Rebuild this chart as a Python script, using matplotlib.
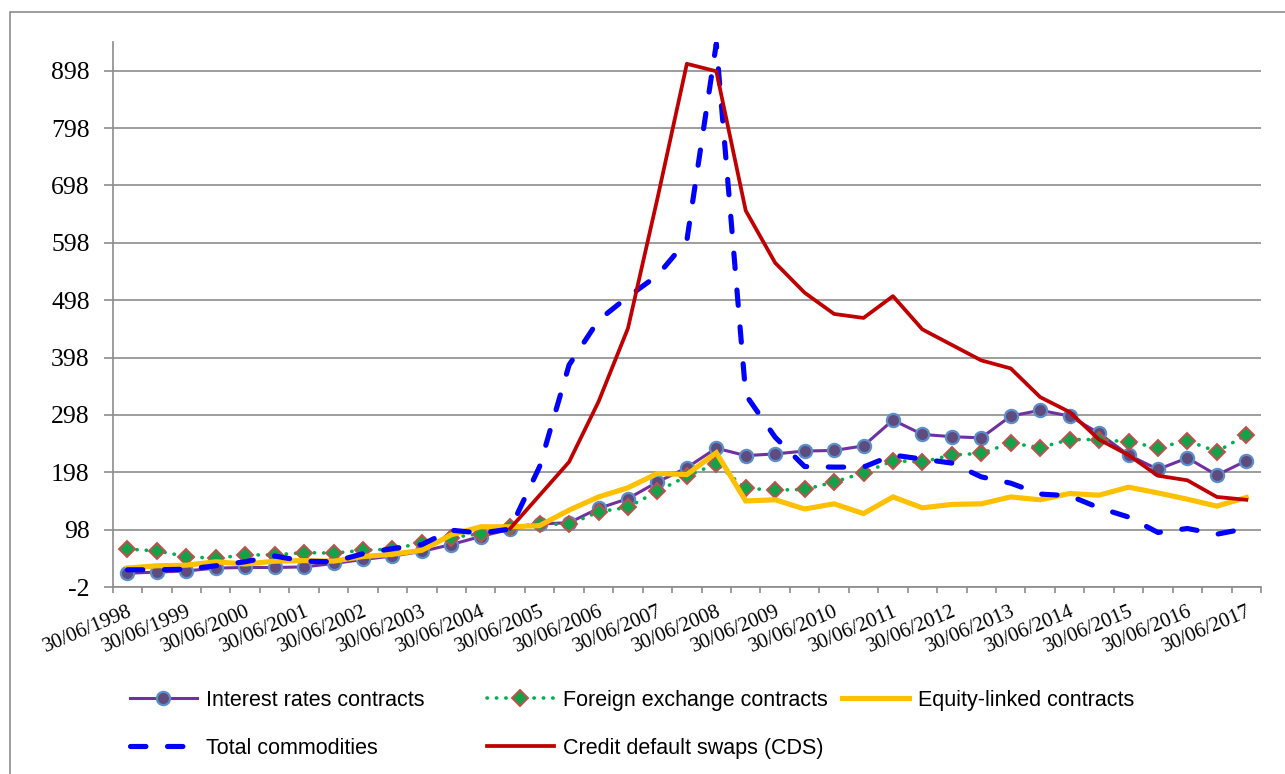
import numpy as np
import matplotlib.pyplot as plt
from matplotlib.patches import Rectangle

# Semi-annual index values (31/12/2004 = 100), from 30/06/1998 to 30/06/2017
tick_labels = ["30/06/1998", "30/06/1999", "30/06/2000", "30/06/2001", "30/06/2002",
               "30/06/2003", "30/06/2004", "30/06/2005", "30/06/2006", "30/06/2007",
               "30/06/2008", "30/06/2009", "30/06/2010", "30/06/2011", "30/06/2012",
               "30/06/2013", "30/06/2014", "30/06/2015", "30/06/2016", "30/06/2017"]

interest_rates = [22, 24, 26, 31, 32, 32, 33, 39, 46, 52, 60, 72, 86, 99, 108, 110, 135, 152, 181, 206,
                  240, 227, 230, 235, 236, 244, 289, 264, 260, 258, 296, 306, 296, 266, 228, 203, 223, 193, 218]
foreign_exchange = [64, 61, 51, 48, 54, 54, 58, 57, 62, 64, 75, 84, 91, 103, 108, 107, 129, 137, 165, 191,
                    213, 170, 167, 168, 181, 197, 218, 216, 228, 231, 249, 241, 255, 255, 251, 241, 253, 234, 263]
equity_linked = [31, 35, 36, 42, 38, 43, 44, 43, 51, 55, 62, 89, 103, 103, 105, 132, 155, 171, 196, 194,
                 232, 148, 150, 134, 143, 126, 155, 136, 142, 143, 155, 150, 161, 158, 172, 162, 151, 139, 154]
commodities = [28, 28, 29, 35, 42, 52, 43, 42, 56, 65, 72, 97, 92, 99, 208, 385, 463, 504, 541, 602,
               945, 333, 259, 208, 207, 207, 228, 221, 214, 190, 179, 160, 157, 136, 120, 93, 100, 90, 100]
cds = [np.nan] * 13 + [100, 158, 216, 321, 449, 675, 910, 897, 654, 563, 511, 474, 467, 505, 447,
                       420, 393, 379, 329, 303, 255, 228, 192, 184, 155, 150]

x = np.arange(len(interest_rates))

fig = plt.figure(figsize=(12.85, 7.74), dpi=100)
ax = fig.add_axes([112.7 / 1285, 1 - 587 / 774, (1261 - 112.7) / 1285, (587 - 42) / 774])

# outer chart border
fig.patches.append(Rectangle((10 / 1285, -0.05), 1.2, 1 - 12 / 774 + 0.05, transform=fig.transFigure,
                             fill=False, edgecolor="#8c8c8c", linewidth=1.2))

l1, = ax.plot(x, interest_rates, color="#7030A0", lw=2.2, marker="o", markersize=9.5,
              markerfacecolor="#5F4B7D", markeredgecolor="#5B8FC9", markeredgewidth=1.6)
l2, = ax.plot(x, foreign_exchange, color="#00B050", lw=2.6, dashes=(0.1, 2.5), dash_capstyle="round",
              marker="D", markersize=8, markerfacecolor="#13A24A", markeredgecolor="#C0504D",
              markeredgewidth=1.4)
l3, = ax.plot(x, equity_linked, color="#FFC000", lw=3.7, solid_joinstyle="miter")
l4, = ax.plot(x, commodities, color="#0000FF", lw=3.7, dashes=(3.0, 4.2), dash_capstyle="round")
l5, = ax.plot(x, cds, color="#C00000", lw=2.7)

ax.set_xlim(-0.5, len(x) - 0.5)
ax.set_ylim(-2, 948)
ax.set_yticks(np.arange(-2, 900, 100))
ax.set_yticklabels([str(v) for v in range(-2, 900, 100)], fontfamily="Liberation Serif", fontsize=18.5)
ax.grid(axis="y", color="#8c8c8c", lw=1.2)
ax.set_axisbelow(True)

ax.set_xticks(x[::2])
ax.set_xticklabels(tick_labels, fontfamily="Liberation Serif", fontsize=15, rotation=23,
                   ha="right", va="top", rotation_mode="anchor")
ax.set_xticks(np.arange(-0.5, len(x), 1), minor=True)
ax.tick_params(axis="x", which="major", length=0, pad=11)
ax.tick_params(axis="x", which="minor", length=4, width=1.2, color="#8c8c8c", direction="out")
ax.tick_params(axis="y", length=6.5, width=1.2, color="#8c8c8c", pad=10)

for side in ["top", "right"]:
    ax.spines[side].set_visible(False)
for side in ["left", "bottom"]:
    ax.spines[side].set_color("#8c8c8c")
    ax.spines[side].set_linewidth(1.2)

leg_kw = dict(loc="upper left", frameon=False, borderpad=0, borderaxespad=0, handlelength=3.1,
              handletextpad=0.45, labelspacing=1.25, prop={"family": "Liberation Sans", "size": 15.5})
top = 1 - 690 / 774
fig.legend([l1, l4], ["Interest rates contracts", "Total commodities"],
           bbox_to_anchor=(130 / 1285, top), **leg_kw)
fig.legend([l2, l5], ["Foreign exchange contracts", "Credit default swaps (CDS)"],
           bbox_to_anchor=(487 / 1285, top), **leg_kw)
fig.legend([l3], ["Equity-linked contracts"], bbox_to_anchor=(842 / 1285, top), **leg_kw)

fig.savefig("out.png", dpi=100, facecolor="white")
